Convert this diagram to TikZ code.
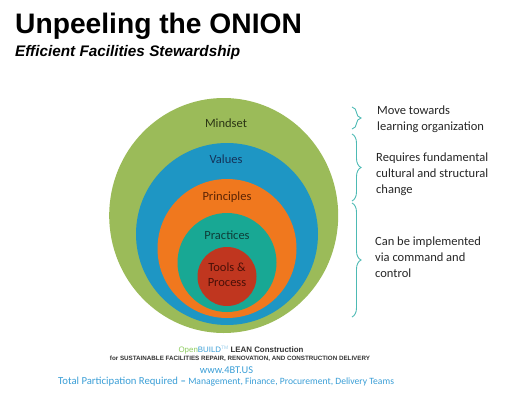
\documentclass[tikz,border=0pt]{standalone}
\usepackage{fontspec}
\setmainfont{Carlito}
\newfontfamily\arialfont{Liberation Sans}
\usetikzlibrary{decorations.pathreplacing}
\definecolor{mindsetcol}{HTML}{9BBB59}
\definecolor{valuescol}{HTML}{1E96C4}
\definecolor{principlescol}{HTML}{F0781E}
\definecolor{practicescol}{HTML}{18A894}
\definecolor{toolscol}{HTML}{C0361F}
\definecolor{mindsettext}{HTML}{2B3514}
\definecolor{valuestext}{HTML}{14325A}
\definecolor{principlestext}{HTML}{5A2404}
\definecolor{practicestext}{HTML}{0E3D38}
\definecolor{toolstext}{HTML}{4A1008}
\definecolor{bracecol}{HTML}{4DBAB4}
\definecolor{webblue}{HTML}{3A9ED6}
\definecolor{opengreen}{HTML}{8CCB5E}
\tikzset{
  ringlabel/.style={inner sep=0pt, align=center, font=\fontsize{12.5}{15}\selectfont},
  notetext/.style={anchor=west, inner sep=0pt, align=left, text=black!85,
                   font=\fontsize{12.5}{16}\selectfont},
  onionbrace/.style={draw=bracecol, line width=0.9pt, decorate,
                     decoration={brace, amplitude=9pt}}
}
\begin{document}
\begin{tikzpicture}[x=1pt, y=-1pt]
    \useasboundingbox (0,0) rectangle (507,400);
    %title
    \node[anchor=base west, inner sep=0pt, font=\arialfont\bfseries\fontsize{28.2}{30}\selectfont] (title) at (15,33) {Unpeeling the ONION};
    \node[anchor=base west, inner sep=0pt, font=\arialfont\bfseries\itshape\fontsize{15.3}{17}\selectfont] (subtitle) at (15,56) {Efficient Facilities Stewardship};

    %onion rings
    \fill[mindsetcol] (223.7,215.5) ellipse [x radius=114.5, y radius=117.5];
    \fill[valuescol] (227,234) circle (91);
    \fill[principlescol] (227,248.5) circle (69.5);
    \fill[practicescol] (227,262.5) circle (49.5);
    \fill[toolscol] (227,276.5) circle (29.5);

    \node[ringlabel, text=mindsettext] (mindset) at (226,123) {Mindset};
    \node[ringlabel, text=valuestext] (values) at (226,159) {Values};
    \node[ringlabel, text=principlestext] (principles) at (227,197) {Principles};
    \node[ringlabel, text=practicestext] (practices) at (227,235) {Practices};
    \node[ringlabel, text=toolstext] (tools) at (227,274.5) {Tools \&\\Process};

    %braces and notes
    \coordinate (b1top) at (352,107);
    \coordinate (b1bot) at (352,129);
    \coordinate (b2top) at (352,134);
    \coordinate (b2bot) at (352,201);
    \coordinate (b3top) at (352,203);
    \coordinate (b3bot) at (352,317);
    \draw[onionbrace] (b1top) -- (b1bot);
    \draw[onionbrace] (b2top) -- (b2bot);
    \draw[onionbrace] (b3top) -- (b3bot);

    \node[notetext] (note1) at (377,119) {Move towards\\learning organization};
    \node[notetext] (note2) at (376,174) {Requires fundamental\\cultural and structural\\change};
    \node[notetext] (note3) at (375,257.5) {Can be implemented\\via command and\\control};

    %footer
    \node[inner sep=0pt, anchor=base, font=\arialfont\fontsize{7.9}{9}\selectfont] (openbuild) at (241,352)
        {\textcolor{opengreen}{Open}\textcolor{webblue}{BUILD}\textcolor{webblue!50}{\raisebox{0.5ex}{\fontsize{5}{5}\selectfont TM}} \textcolor{black!80}{\bfseries LEAN Construction}};
    \node[inner sep=0pt, anchor=base, text=black!80, font=\arialfont\bfseries\fontsize{6.24}{7}\selectfont] (forline) at (240,360)
        {for SUSTAINABLE FACILITIES REPAIR, RENOVATION, AND CONSTRUCTION DELIVERY};
    \node[inner sep=0pt, anchor=base, text=webblue, font=\fontsize{10.4}{12}\selectfont] (www) at (226.5,373) {www.4BT.US};
    \node[inner sep=0pt, anchor=base west, text=webblue] (total) at (58,384)
        {\fontsize{10.7}{12}\selectfont Total Participation Required \textbf{--}\ \fontsize{9.6}{11}\selectfont Management, Finance, Procurement, Delivery Teams};
\end{tikzpicture}
\end{document}
